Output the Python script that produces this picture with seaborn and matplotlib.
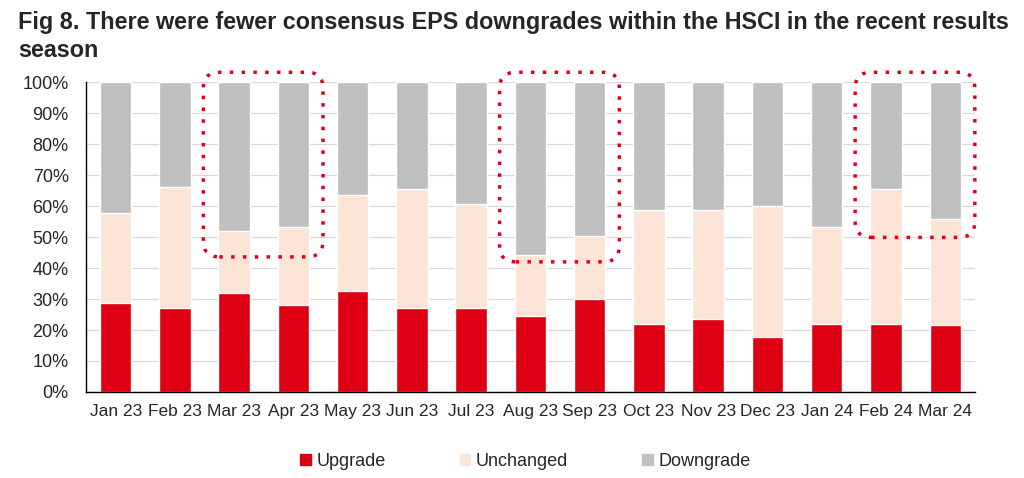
import numpy as np
import pandas as pd
import matplotlib
matplotlib.use("Agg")
import matplotlib.pyplot as plt
from matplotlib.patches import FancyBboxPatch, Patch
from matplotlib.transforms import IdentityTransform
import seaborn as sns

# data (% of HSCI constituents)
months = ["Jan 23", "Feb 23", "Mar 23", "Apr 23", "May 23", "Jun 23", "Jul 23",
          "Aug 23", "Sep 23", "Oct 23", "Nov 23", "Dec 23", "Jan 24", "Feb 24", "Mar 24"]
upgrade = [28.8, 27.0, 31.9, 28.2, 32.5, 27.0, 27.0, 24.6, 30.0, 22.1, 23.4, 17.8, 22.1, 22.1, 21.5]
unchanged = [29.1, 39.2, 20.0, 24.9, 31.0, 38.6, 33.6, 19.5, 20.3, 36.6, 35.3, 42.2, 31.1, 43.5, 34.2]
downgrade = [42.1, 33.8, 48.1, 46.9, 36.5, 34.4, 39.4, 55.9, 49.7, 41.3, 41.3, 40.0, 46.8, 34.4, 44.3]

# highlighted month pairs: (first idx, last idx, bottom of box in %)
highlights = [(2, 3, 43.6), (7, 8, 42.0), (13, 14, 49.9)]

c_up, c_unch, c_down = "#DE0012", "#FCE4D6", "#BFBFBF"

sns.set_style("white")
plt.rcParams["font.family"] = ["Liberation Sans", "DejaVu Sans"]

df = pd.DataFrame({"month": months, "upgrade": upgrade,
                   "unchanged": unchanged, "downgrade": downgrade})
df["cum_unch"] = df["upgrade"] + df["unchanged"]
df["total"] = df["cum_unch"] + df["downgrade"]

fig = plt.figure(figsize=(10.24, 4.78), dpi=100)
ax = fig.add_axes([0.084, 0.18, 0.868, 0.648])

# layered bars -> stacked look
sns.barplot(data=df, x="month", y="total", color=c_down, saturation=1, width=0.53, ax=ax, zorder=2)
sns.barplot(data=df, x="month", y="cum_unch", color=c_unch, saturation=1, width=0.53, ax=ax, zorder=3)
sns.barplot(data=df, x="month", y="upgrade", color=c_up, saturation=1, width=0.53, ax=ax, zorder=4)

ax.set_xlim(-0.5, len(months) - 0.5)
ax.set_ylim(0, 100)
ax.set_yticks(np.arange(0, 101, 10))
ax.set_yticklabels([f"{v}%" for v in range(0, 101, 10)], fontsize=13)
ax.set_xlabel("")
ax.set_ylabel("")
ax.tick_params(axis="x", which="major", length=0, labelsize=12.5, pad=9)
ax.set_xticks(np.arange(-0.5, len(months), 1), minor=True)
ax.tick_params(axis="x", which="minor", length=4, width=1, color="black", direction="out")
ax.tick_params(axis="y", length=4, width=1, color="black", direction="out", pad=8.5)
ax.yaxis.grid(True, color="#D9D9D9", linewidth=0.9, zorder=0)
ax.set_axisbelow(True)
for s in ["top", "right"]:
    ax.spines[s].set_visible(False)
for s in ["left", "bottom"]:
    ax.spines[s].set_color("black")
    ax.spines[s].set_linewidth(1)
    ax.spines[s].set_zorder(6)

# dotted rounded boxes around highlighted months (drawn in pixel space)
fig.canvas.draw()
for i0, i1, ybot in highlights:
    x0, y0 = ax.transData.transform((i0 - 0.52, ybot))
    x1, y1 = ax.transData.transform((i1 + 0.5, 103.2))
    box = FancyBboxPatch((x0, y0), x1 - x0, y1 - y0,
                         boxstyle="round,pad=0,rounding_size=16",
                         transform=IdentityTransform(), fill=False,
                         edgecolor="#E0001B", linewidth=2.5,
                         linestyle=(0, (1, 2.4)), zorder=10)
    fig.add_artist(box)

fig.text(0.018, 0.978, "Fig 8. There were fewer consensus EPS downgrades within the HSCI in the recent results\nseason",
         fontsize=16.8, fontweight="bold", va="top", ha="left", linespacing=1.3)

handles = [Patch(color=c_up, label="Upgrade"),
           Patch(color=c_unch, label="Unchanged"),
           Patch(color=c_down, label="Downgrade")]
fig.legend(handles=handles, loc="center", bbox_to_anchor=(0.513, 0.035), ncol=3,
           frameon=False, fontsize=13, handlelength=0.6, handleheight=0.6,
           handletextpad=0.3, columnspacing=4.1)

fig.savefig("out.png", dpi=100)
